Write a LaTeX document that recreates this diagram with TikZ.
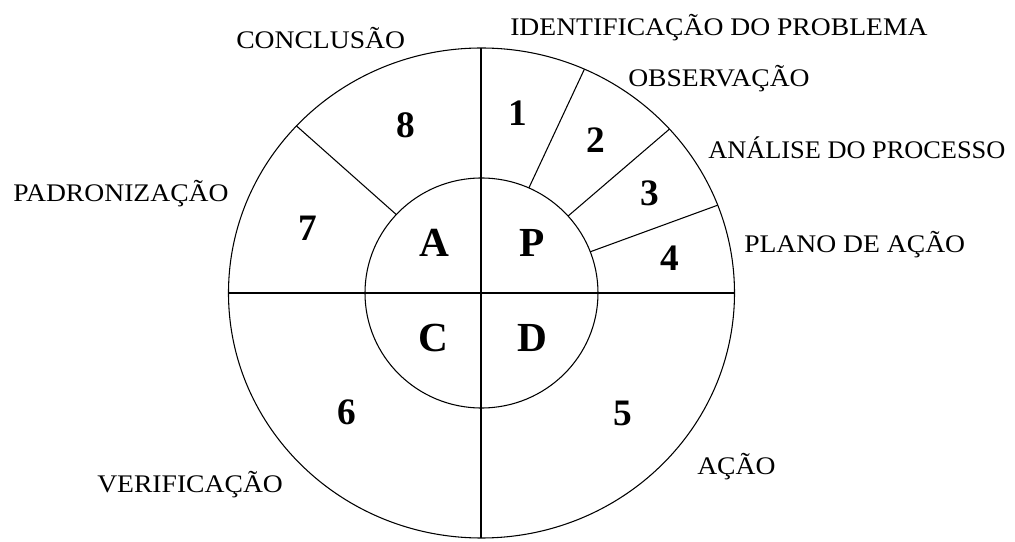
\documentclass[tikz,border=0pt]{standalone}
\usepackage{fontspec}
\setmainfont{Liberation Serif}
\newfontfamily\labelfont[FakeStretch=1.09]{Liberation Serif}
\newfontfamily\labelnarrow[FakeStretch=1.04]{Liberation Serif}
\usetikzlibrary{positioning}

\begin{document}
\begin{tikzpicture}[x=0.75pt, y=0.75pt,
    ring/.style={line width=0.8pt},
    cross/.style={line width=1.5pt},
    stage/.style={font=\labelfont\fontsize{19}{22}\selectfont, anchor=base west, inner sep=0pt},
    num/.style={font=\bfseries\fontsize{28}{32}\selectfont},
    pdca/.style={font=\bfseries\fontsize{31}{36}\selectfont}]
  \useasboundingbox (-481.5,-249) rectangle (533.5,293);

  % outer and inner circle
  \draw[ring] (0,0) ellipse [x radius=253, y radius=245];
  \draw[ring] (0,0) ellipse [x radius=116.5, y radius=115];

  % the four quarters
  \draw[cross] (-253,0) -- (253,0);
  \draw[cross] (0,245) -- (0,-245);

  % steps of the ring
  \foreach \a in {66,42,21,137}
    \draw[ring] (\a:116.5 and 115) -- (\a:253 and 245);

  % P D C A
  \node[pdca] (plan)  at (50.5,50)   {P};
  \node[pdca] (act)   at (-47.5,50)  {A};
  \node[pdca] (check) at (-48.5,-45) {C};
  \node[pdca] (do)    at (50.5,-45)  {D};

  % step numbers
  \node[num] (n1) at (36.5,180)    {1};
  \node[num] (n2) at (114.5,153)   {2};
  \node[num] (n3) at (168.5,100)   {3};
  \node[num] (n4) at (188.5,35)    {4};
  \node[num] (n5) at (141.5,-120)  {5};
  \node[num] (n6) at (-134.5,-119) {6};
  \node[num] (n7) at (-173.5,65)   {7};
  \node[num] (n8) at (-75.5,168)   {8};

  % step names
  \node[stage] (ident)  at (28.5,257)   {IDENTIFICAÇÃO DO PROBLEMA};
  \node[stage] (obs)    at (146.5,206)  {OBSERVAÇÃO};
  \node[stage, font=\labelnarrow\fontsize{19}{22}\selectfont]
               (anal)   at (226.5,134)  {ANÁLISE DO PROCESSO};
  \node[stage] (plano)  at (262.5,40)   {PLANO DE AÇÃO};
  \node[stage] (acao)   at (215.5,-182) {AÇÃO};
  \node[stage] (verif)  at (-384.5,-200) {VERIFICAÇÃO};
  \node[stage] (padr)   at (-468.5,91)  {PADRONIZAÇÃO};
  \node[stage] (concl)  at (-245.5,244) {CONCLUSÃO};
\end{tikzpicture}
\end{document}
